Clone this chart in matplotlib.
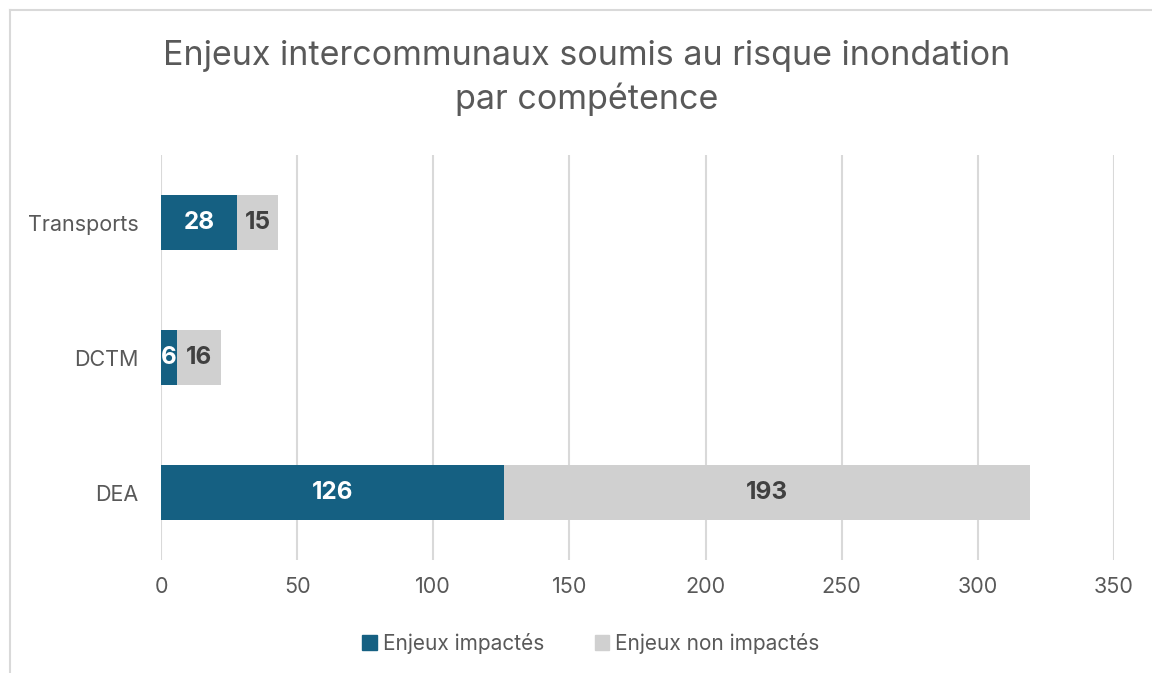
import matplotlib
matplotlib.use("Agg")
import matplotlib.pyplot as plt
from matplotlib.patches import Rectangle
from matplotlib.lines import Line2D

plt.rcParams['font.family'] = ['Inter', 'DejaVu Sans']

categories = ["Transports", "DCTM", "DEA"]
impactes = [28, 6, 126]
non_impactes = [15, 16, 193]
series_names = ["Enjeux impactés", "Enjeux non impactés"]
title = "Enjeux intercommunaux soumis au risque inondation\npar compétence"
xticks = [0, 50, 100, 150, 200, 250, 300, 350]

blue = "#156082"
grey = "#D0D0D0"
txt = "#595959"

fig = plt.figure(figsize=(11.52, 6.73), dpi=100)
ax = fig.add_axes([161/1152, 1-560/673, (1114-161)/1152, (560-155)/673])

ypos = list(range(len(categories)))
h = 0.405
ax.barh(ypos, impactes, height=h, color=blue, zorder=3)
ax.barh(ypos, non_impactes, left=impactes, height=h, color=grey, zorder=3)

for y, v in zip(ypos, impactes):
    ax.text(v/2, y, str(v), ha='center', va='center', color='white',
            fontsize=17.5, fontweight='bold', zorder=4)
for y, l, v in zip(ypos, impactes, non_impactes):
    ax.text(l + v/2, y, str(v), ha='center', va='center', color='#404040',
            fontsize=17.5, fontweight='bold', zorder=4)

ax.set_ylim(len(categories)-0.5, -0.5)
ax.set_xlim(0, 350)
ax.set_xticks(xticks)
ax.set_yticks(ypos)
ax.set_yticklabels(categories)
ax.tick_params(axis='both', length=0, labelsize=15.5, labelcolor=txt)
ax.tick_params(axis='x', pad=12)
ax.tick_params(axis='y', pad=16)
ax.grid(axis='x', color='#D9D9D9', linewidth=1.5, zorder=0)
for s in ax.spines.values():
    s.set_visible(False)

fig.text(587/1152, 1-78/673, title, ha='center', va='center', fontsize=24.5,
         color=txt, linespacing=1.4)

handles = [Rectangle((0, 0), 1, 1, color=blue), Rectangle((0, 0), 1, 1, color=grey)]
fig.legend(handles, series_names, loc='center', bbox_to_anchor=(591/1152, 1-643/673),
           ncol=2, frameon=False, fontsize=15, labelcolor=txt, handlelength=0.7,
           handleheight=0.7, handletextpad=0.3, columnspacing=2.4)

# outer border
fig.add_artist(Line2D([10/1152, 10/1152], [0, 1-10/673], transform=fig.transFigure,
                      color='#D9D9D9', linewidth=1.5))
fig.add_artist(Line2D([10/1152, 1], [1-10/673, 1-10/673], transform=fig.transFigure,
                      color='#D9D9D9', linewidth=1.5))

fig.savefig("out.png", dpi=100)
